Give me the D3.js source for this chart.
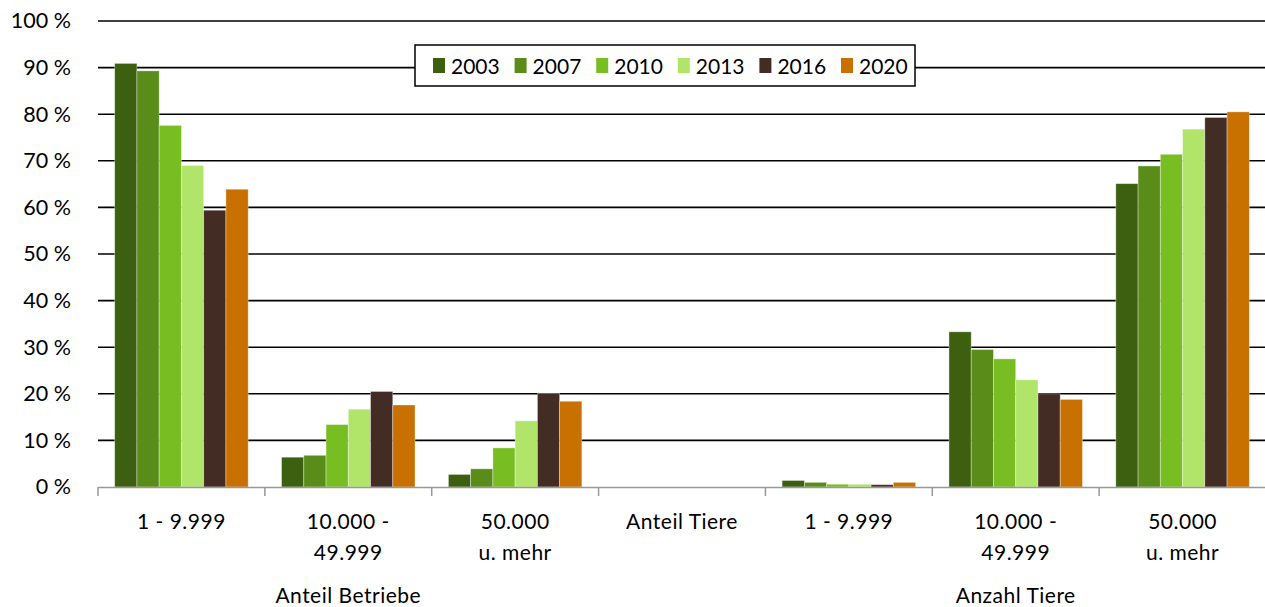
<!DOCTYPE html>
<html>
<head>
<meta charset="utf-8">
<script src="https://cdn.jsdelivr.net/npm/d3@7"></script>
<style>
  body { margin: 0; background: #fff; }
  text { font-family: Lato, "Noto Sans", sans-serif; fill: #000; }
</style>
</head>
<body>
<div id="chart"></div>
<script>
// Data
var years = ["2003", "2007", "2010", "2013", "2016", "2020"];
var categories = ["b1", "b2", "b3", "t0", "t1", "t2", "t3"];
var catLabels = [["1 - 9.999"], ["10.000 -", "49.999"], ["50.000", "u. mehr"], ["Anteil Tiere"],
                 ["1 - 9.999"], ["10.000 -", "49.999"], ["50.000", "u. mehr"]];
var groupLabels = [{ cat: "b2", text: "Anteil Betriebe" }, { cat: "t2", text: "Anzahl Tiere" }];
var colors = ["#3c6010", "#5a8c1a", "#78bd22", "#b0e56a", "#432c23", "#c87000"];

var v2003 = [90.9, 6.4, 2.7, null, 1.4, 33.3, 65.1];
var v2007 = [89.3, 6.8, 3.9, null, 1.0, 29.5, 68.9];
var v2010 = [77.6, 13.4, 8.4, null, 0.6, 27.5, 71.4];
var v2013 = [69.0, 16.7, 14.2, null, 0.6, 23.0, 76.8];
var v2016 = [59.4, 20.5, 20.1, null, 0.5, 20.0, 79.3];
var v2020 = [63.9, 17.6, 18.4, null, 1.0, 18.8, 80.5];
var series = [v2003, v2007, v2010, v2013, v2016, v2020];

var yTicks = [0, 10, 20, 30, 40, 50, 60, 70, 80, 90, 100];

// Chart area
var svgWidth = 1265;
var svgHeight = 607;
var margin = { top: 21, right: 0, bottom: 120, left: 98 };
var chartWidth = 1266 - margin.left;
var chartHeight = 487 - margin.top;

var svg = d3.select("#chart").append("svg")
  .attr("width", svgWidth)
  .attr("height", svgHeight);

var chartGroup = svg.append("g")
  .attr("transform", `translate(${margin.left}, ${margin.top})`);

// Scales
var x0 = d3.scaleBand().domain(categories).range([0, chartWidth]);
var gap = x0.bandwidth() * 0.1;
var x1 = d3.scaleBand().domain(years).range([gap, x0.bandwidth() - gap]);
var y = d3.scaleLinear().domain([0, 100]).range([chartHeight, 0]);

// Gridlines
chartGroup.append("g")
  .selectAll("line")
  .data(yTicks.filter(function(d) { return d > 0; }))
  .enter()
  .append("line")
  .attr("x1", 0)
  .attr("x2", chartWidth)
  .attr("y1", function(d) { return y(d); })
  .attr("y2", function(d) { return y(d); })
  .attr("stroke", "#000")
  .attr("stroke-width", 1.6);

// Y axis labels
var leftAxis = d3.axisLeft(y).tickValues(yTicks).tickSize(0).tickPadding(27)
  .tickFormat(function(d) { return d + " %"; });
var yAxisG = chartGroup.append("g").call(leftAxis);
yAxisG.select(".domain").remove();
yAxisG.selectAll("text")
  .attr("font-size", "21.5px")
  .attr("font-family", "Lato, 'Noto Sans', sans-serif");

// Bars
var rows = [];
series.forEach(function(vals, si) {
  vals.forEach(function(v, ci) {
    if (v !== null) rows.push({ year: years[si], cat: categories[ci], value: v, color: colors[si] });
  });
});

chartGroup.append("g")
  .selectAll("rect")
  .data(rows)
  .enter()
  .append("rect")
  .attr("x", function(d) { return x0(d.cat) + x1(d.year); })
  .attr("y", function(d) { return y(d.value); })
  .attr("width", x1.bandwidth())
  .attr("height", function(d) { return chartHeight - y(d.value); })
  .attr("fill", function(d) { return d.color; })
  .attr("stroke", "rgba(255,255,255,0.45)")
  .attr("stroke-width", 0.8);

// X axis
var bottomAxis = d3.axisBottom(x0).tickSize(0).tickFormat("");
var xAxisG = chartGroup.append("g")
  .attr("transform", `translate(0, ${chartHeight})`)
  .call(bottomAxis);
xAxisG.select(".domain").attr("stroke", "#999").attr("stroke-width", 1.5);

var tickPos = categories.map(function(c) { return x0(c); });
xAxisG.selectAll(".sep")
  .data(tickPos)
  .enter()
  .append("line")
  .attr("x1", function(d) { return d; })
  .attr("x2", function(d) { return d; })
  .attr("y1", 0)
  .attr("y2", 9)
  .attr("stroke", "#999")
  .attr("stroke-width", 1.5);

// Category labels
categories.forEach(function(c, i) {
  var t = xAxisG.append("text")
    .attr("x", x0(c) + x0.bandwidth() / 2)
    .attr("y", 42)
    .attr("text-anchor", "middle")
    .attr("font-size", "21px")
    .attr("letter-spacing", "0.5px");
  catLabels[i].forEach(function(line, li) {
    t.append("tspan")
      .attr("x", x0(c) + x0.bandwidth() / 2)
      .attr("dy", li === 0 ? 0 : 31)
      .text(line);
  });
});

groupLabels.forEach(function(g) {
  xAxisG.append("text")
    .attr("x", x0(g.cat) + x0.bandwidth() / 2)
    .attr("y", 116)
    .attr("text-anchor", "middle")
    .attr("font-size", "21px")
    .attr("letter-spacing", "0.5px")
    .text(g.text);
});

// Legend
var legend = svg.append("g").attr("transform", "translate(415, 45)");
legend.append("rect")
  .attr("width", 500)
  .attr("height", 41)
  .attr("fill", "#fff")
  .attr("stroke", "#000")
  .attr("stroke-width", 1.5);

var items = legend.selectAll(".item")
  .data(years)
  .enter()
  .append("g")
  .attr("transform", function(d, i) { return `translate(${18 + i * 81.6}, 0)`; });

items.append("rect")
  .attr("y", 13)
  .attr("width", 12)
  .attr("height", 15)
  .attr("fill", function(d, i) { return colors[i]; });

items.append("text")
  .attr("x", 18)
  .attr("y", 28.5)
  .attr("font-size", "21px")
  .text(function(d) { return d; });
</script>
</body>
</html>
